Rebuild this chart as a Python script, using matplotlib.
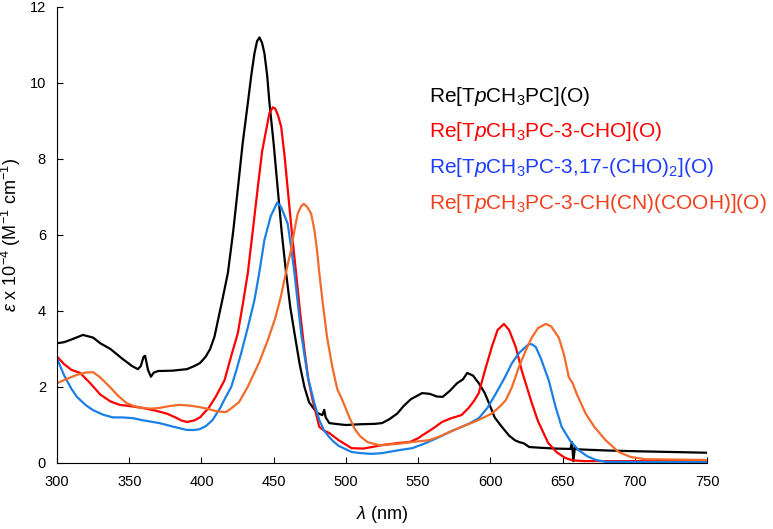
import matplotlib
matplotlib.use("Agg")
import matplotlib.pyplot as plt

plt.rcParams['font.family'] = ['Liberation Sans', 'DejaVu Sans']
plt.rcParams['mathtext.fontset'] = 'custom'
plt.rcParams['mathtext.rm'] = 'Liberation Sans'
plt.rcParams['mathtext.it'] = 'Liberation Sans:italic'
plt.rcParams['mathtext.bf'] = 'Liberation Sans:bold'

# Re[TpCH3PC](O)
wl_black = [300, 305, 310, 318, 325, 330, 337, 345, 352, 356, 358, 360, 361, 363, 365, 367,
            370, 380, 390, 395, 399, 403, 406, 409, 414.5, 418.3, 422, 425.2, 428.5, 432.1,
            434.5, 436.7, 438.5, 440.2, 442, 443.6, 445.5, 447.1, 450, 452.8, 455.5, 458.6,
            461.5, 464.4, 468, 471.3, 474.5, 477, 480, 483.7, 485, 486, 488.5, 495, 500, 510,
            520, 525, 530, 535.5, 540, 545, 552.8, 558, 563, 567, 572, 577, 581, 584, 588, 592,
            596, 599, 603, 608, 613, 617, 620, 623, 627, 635, 645, 655.5, 656.5, 657.5, 658.5,
            660, 680, 700, 750]
eps_black = [3.15, 3.18, 3.25, 3.37, 3.3, 3.15, 3.0, 2.75, 2.55, 2.47, 2.55, 2.8, 2.82, 2.45,
             2.27, 2.38, 2.42, 2.43, 2.47, 2.55, 2.63, 2.8, 3.0, 3.32, 4.3, 5.0, 6.1, 7.22, 8.4,
             9.47, 10.2, 10.78, 11.1, 11.2, 11.05, 10.78, 10.2, 9.47, 8.4, 7.22, 6.1, 5.0, 4.1,
             3.42, 2.6, 2.0, 1.6, 1.47, 1.32, 1.26, 1.4, 1.2, 1.05, 1.02, 1.0, 1.02, 1.03, 1.05,
             1.15, 1.3, 1.5, 1.68, 1.84, 1.82, 1.75, 1.74, 1.9, 2.1, 2.2, 2.37, 2.3, 2.1, 1.85,
             1.58, 1.2, 0.95, 0.72, 0.6, 0.55, 0.52, 0.42, 0.4, 0.38, 0.37, 0.55, 0.05, 0.4,
             0.36, 0.33, 0.31, 0.27]

# Re[TpCH3PC-3-CHO](O)
wl_red = [300, 305, 310, 316, 323, 330, 337, 343.5, 350, 359, 368, 376, 382, 386, 390, 395,
          399, 405, 410, 416, 420.5, 425.2, 428.5, 432.1, 435.5, 439, 442, 444.8, 447, 449.4,
          451, 453, 455.2, 457.5, 459.7, 462.5, 465.5, 468.5, 471.3, 474, 477, 481.6, 485,
          488.5, 495, 504, 512, 518, 525, 537, 544, 550, 553, 560, 566.6, 573, 580, 585, 589,
          592, 596, 601, 605, 609.4, 613, 617.6, 622, 628.7, 633, 640, 646, 652, 657, 665, 750]
eps_red = [2.8, 2.6, 2.45, 2.37, 2.1, 1.8, 1.62, 1.53, 1.5, 1.45, 1.38, 1.3, 1.2, 1.12, 1.08,
           1.12, 1.2, 1.45, 1.75, 2.18, 2.8, 3.42, 4.15, 5.0, 6.1, 7.25, 8.2, 8.76, 9.2, 9.36,
           9.33, 9.15, 8.85, 8.1, 7.22, 6.1, 5.0, 3.9, 2.97, 2.2, 1.65, 0.95, 0.85, 0.79, 0.6,
           0.39, 0.38, 0.42, 0.47, 0.53, 0.55, 0.65, 0.73, 0.9, 1.08, 1.18, 1.26, 1.45, 1.65,
           1.84, 2.4, 3.05, 3.5, 3.66, 3.5, 3.05, 2.4, 1.58, 1.1, 0.53, 0.28, 0.13, 0.07, 0.05,
           0.05]

# Re[TpCH3PC-3,17-(CHO)2](O)
wl_blue = [300, 305, 310, 313.8, 320, 325, 332, 338.7, 345, 352.5, 360, 371, 380, 389.8, 395,
           398.8, 403, 407.7, 413, 417, 420.6, 424, 427.5, 432, 436.7, 440, 443.6, 448, 452.4,
           455, 459.7, 462, 464.4, 469, 473.6, 478, 481.6, 485, 488.5, 491, 495, 504, 510, 518,
           525, 537, 546, 555, 564.5, 572, 580, 586, 592, 598, 604, 610, 615, 620, 626.6, 629,
           631.5, 635, 640.4, 645, 649.4, 655, 661, 667, 673, 680, 750]
eps_blue = [2.75, 2.3, 1.95, 1.74, 1.52, 1.39, 1.27, 1.2, 1.2, 1.18, 1.12, 1.05, 0.96, 0.87,
            0.87, 0.89, 0.97, 1.13, 1.45, 1.75, 2.0, 2.42, 2.89, 3.55, 4.29, 5.0, 5.87, 6.5,
            6.85, 6.75, 6.3, 5.7, 5.0, 3.42, 2.27, 1.6, 1.13, 0.85, 0.68, 0.58, 0.45, 0.29,
            0.26, 0.24, 0.26, 0.34, 0.39, 0.52, 0.68, 0.82, 0.95, 1.05, 1.18, 1.45, 1.84, 2.25,
            2.63, 2.9, 3.13, 3.12, 3.05, 2.75, 2.18, 1.5, 0.95, 0.6, 0.34, 0.18, 0.08, 0.03, 0.02]

# Re[TpCH3PC-3-CH(CN)(COOH)](O)
wl_orange = [300, 306, 313.8, 320, 325, 330, 336.6, 342, 348, 353, 359.4, 365, 371, 378, 385,
             392, 398.8, 405, 410.5, 417, 421, 426, 432, 440, 446, 451, 455, 459, 462, 464.5,
             466.7, 469, 470.8, 473, 475.9, 478.2, 480, 481.6, 484, 487, 490.6, 494, 497.5,
             502.3, 506, 510, 515, 523, 535, 545, 557.6, 565, 572, 580, 590, 601, 607, 610.8,
             615, 619.8, 625, 628.7, 633, 638.4, 642, 647.4, 651, 654.3, 657, 660, 666, 672,
             679.8, 688.8, 697, 707, 750]
eps_orange = [2.1, 2.2, 2.32, 2.38, 2.39, 2.25, 2.0, 1.78, 1.58, 1.5, 1.45, 1.43, 1.45, 1.5,
              1.53, 1.51, 1.47, 1.42, 1.36, 1.34, 1.45, 1.6, 2.0, 2.65, 3.24, 3.8, 4.38, 5.1,
              5.6, 6.15, 6.57, 6.75, 6.82, 6.75, 6.57, 6.13, 5.6, 5.0, 4.2, 3.3, 2.53, 1.95,
              1.66, 1.21, 0.9, 0.7, 0.55, 0.47, 0.5, 0.55, 0.6, 0.7, 0.82, 0.95, 1.1, 1.3, 1.5,
              1.66, 2.0, 2.53, 3.0, 3.3, 3.55, 3.66, 3.6, 3.3, 2.85, 2.26, 2.1, 1.8, 1.3, 0.95,
              0.6, 0.29, 0.16, 0.1, 0.08]

labels = [r'Re[T$\mathit{p}$CH$_3$PC](O)',
          r'Re[T$\mathit{p}$CH$_3$PC-3-CHO](O)',
          r'Re[T$\mathit{p}$CH$_3$PC-3,17-(CHO)$_2$](O)',
          r'Re[T$\mathit{p}$CH$_3$PC-3-CH(CN)(COOH)](O)']
line_colors = ['#000000', '#FF0000', '#1A80E6', '#F26B2A']
text_colors = ['#000000', '#FF0000', '#1E3CFF', '#F2401E']

fig = plt.figure(figsize=(7.73, 5.29), dpi=100)
ax = fig.add_axes([57 / 773, 1 - 463 / 529, 650 / 773, 456 / 529])

series = [(wl_black, eps_black), (wl_red, eps_red), (wl_blue, eps_blue), (wl_orange, eps_orange)]
for (x, y), c in zip(series, line_colors):
    ax.plot(x, y, color=c, lw=1.6, solid_joinstyle='round')

ax.set_xlim(300, 750)
ax.set_ylim(0, 12)
ax.set_xticks(range(300, 751, 50))
ax.set_yticks(range(0, 13, 2))
ax.spines['top'].set_visible(False)
ax.spines['right'].set_visible(False)
ax.tick_params(direction='in', length=4, labelsize=10.5)
ax.tick_params(axis='x', pad=9)
ax.tick_params(axis='y', pad=8)

ax.set_xlabel(r'$\lambda$ (nm)', fontsize=13)
ax.set_ylabel(r'$\varepsilon$ x 10$^{-4}$ (M$^{-1}$ cm$^{-1}$)', fontsize=13)
ax.xaxis.set_label_coords(0.5, -0.09)
ax.yaxis.set_label_coords(-0.052, 0.5)

baselines = [101.7, 137, 173, 209]
for lab, c, b in zip(labels, text_colors, baselines):
    fig.text(429 / 773, 1 - b / 529, lab, color=c, fontsize=15, va='baseline', ha='left')

fig.savefig('out.png', dpi=100)
